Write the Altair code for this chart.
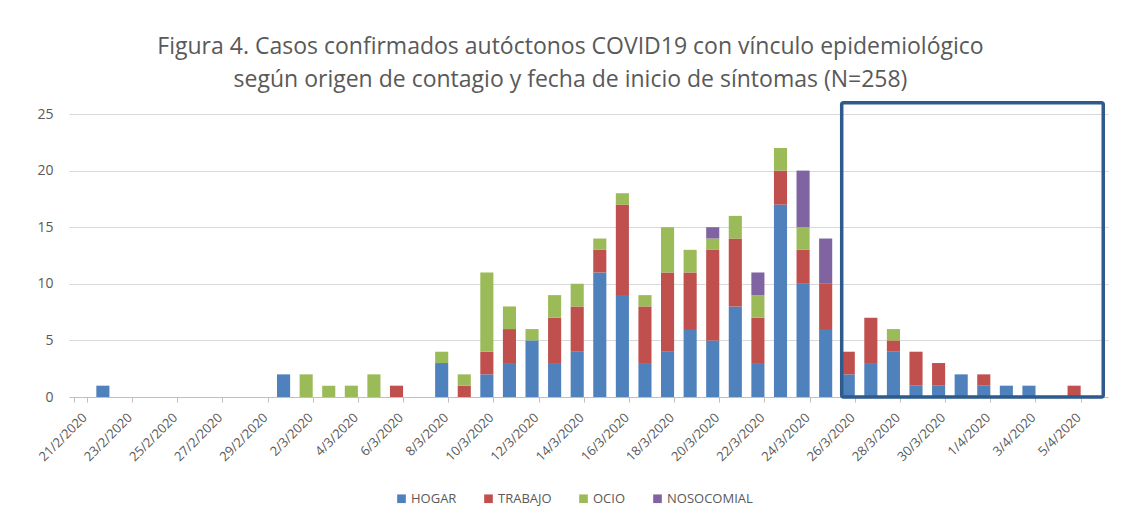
import altair as alt
import pandas as pd

# ---- data ----
dates = (
    [f"{d}/2/2020" for d in range(21, 30)]
    + [f"{d}/3/2020" for d in range(1, 32)]
    + [f"{d}/4/2020" for d in range(1, 7)]
)
series = ["HOGAR", "TRABAJO", "OCIO", "NOSOCOMIAL"]
colors = ["#4F81BD", "#C0504D", "#9BBB59", "#8064A2"]

hogar = [0, 1, 0, 0, 0, 0, 0, 0, 0,
         2, 0, 0, 0, 0, 0, 0, 3, 0, 2, 3, 5, 3, 4, 11, 9, 3, 4, 6, 5, 8, 3, 17, 10, 6, 2, 3, 4, 1, 1, 2,
         1, 1, 1, 0, 0, 0]
trabajo = [0, 0, 0, 0, 0, 0, 0, 0, 0,
           0, 0, 0, 0, 0, 1, 0, 0, 1, 2, 3, 0, 4, 4, 2, 8, 5, 7, 5, 8, 6, 4, 3, 3, 4, 2, 4, 1, 3, 2, 0,
           1, 0, 0, 0, 1, 0]
ocio = [0, 0, 0, 0, 0, 0, 0, 0, 0,
        0, 2, 1, 1, 2, 0, 0, 1, 1, 7, 2, 1, 2, 2, 1, 1, 1, 4, 2, 1, 2, 2, 2, 2, 0, 0, 0, 1, 0, 0, 0,
        0, 0, 0, 0, 0, 0]
nosocomial = [0, 0, 0, 0, 0, 0, 0, 0, 0,
              0, 0, 0, 0, 0, 0, 0, 0, 0, 0, 0, 0, 0, 0, 0, 0, 0, 0, 0, 1, 0, 2, 0, 5, 4, 0, 0, 0, 0, 0, 0,
              0, 0, 0, 0, 0, 0]

label_dates = dates[::2]
box_start = "26/3/2020"
box_end = "6/4/2020"
box_top = 26

title_lines = [
    "Figura 4. Casos confirmados autóctonos COVID19 con vínculo epidemiológico",
    "según origen de contagio y fecha de inicio de síntomas (N=258)",
]

# ---- table ----
rows = []
for i, d in enumerate(dates):
    for k, (name, vals) in enumerate(zip(series, [hogar, trabajo, ocio, nosocomial])):
        rows.append({"fecha": d, "origen": name, "casos": vals[i], "orden": k})
df = pd.DataFrame(rows)
box_df = pd.DataFrame([{"start": box_start, "end": box_end, "y0": 0, "y1": box_top}])

FONT = "Open Sans"
GREY = "#595959"

x_scale = alt.Scale(domain=dates, paddingInner=0.42, paddingOuter=0.21)
y_scale = alt.Scale(domain=[0, 25], nice=False, zero=True)

x_axis = alt.Axis(
    values=label_dates,
    labelAngle=315,
    labelAlign="right",
    labelBaseline="top",
    labelFont=FONT,
    labelFontSize=13,
    labelColor=GREY,
    labelPadding=9,
    tickBand="extent",
    tickColor="#BFBFBF",
    tickSize=5,
    domainColor="#BFBFBF",
    grid=False,
)
y_axis = alt.Axis(
    values=[0, 5, 10, 15, 20, 25],
    labelFont=FONT,
    labelFontSize=14,
    labelColor=GREY,
    labelPadding=16,
    ticks=False,
    domain=False,
    domainOpacity=0,
    gridColor="#D9D9D9",
    gridWidth=1,
)

bars = alt.Chart(df).mark_bar().encode(
    x=alt.X("fecha:N", sort=dates, scale=x_scale, title=None, axis=x_axis),
    y=alt.Y("casos:Q", stack="zero", scale=y_scale, title=None, axis=y_axis),
    color=alt.Color(
        "origen:N",
        scale=alt.Scale(domain=series, range=colors),
        legend=alt.Legend(
            title=None,
            orient="none",
            direction="horizontal",
            legendX=326,
            legendY=378,
            symbolType="square",
            symbolSize=75,
            symbolStrokeWidth=0,
            labelFont=FONT,
            labelFontSize=13,
            labelColor=GREY,
            columnPadding=25,
            labelOffset=3,
        ),
    ),
    order=alt.Order("orden:Q", sort="ascending"),
)

box = alt.Chart(box_df).mark_rect(
    fillOpacity=0, stroke="#2E5A8C", strokeWidth=3.5, clip=False,
    cornerRadius=2,
).encode(
    x=alt.X("start:N", sort=dates, scale=x_scale, bandPosition=0, title=None, axis=x_axis),
    x2=alt.X2("end", bandPosition=1),
    y=alt.Y("y0:Q", scale=y_scale, title=None, axis=y_axis),
    y2=alt.Y2("y1"),
)

chart = (
    alt.layer(bars, box)
    .properties(
        width=1039,
        height=283,
        background="white",
        view=alt.ViewBackground(stroke="transparent", strokeWidth=0, strokeOpacity=0),
        title=alt.Title(
            title_lines,
            font=FONT,
            fontSize=23,
            fontWeight="normal",
            color=GREY,
            anchor="middle",
            offset=9,
            dx=-18,
            lineHeight=33,
        ),
        autosize=alt.AutoSizeParams(type="none"),
        padding={"left": 61, "top": 106, "right": 12, "bottom": 115},
    )
    .configure_view(stroke="transparent", strokeWidth=0, strokeOpacity=0)
    .configure_axisY(domain=False, domainOpacity=0)
    .configure_axisX(gridOpacity=0)
)

chart.save("out.html", embed_options={"renderer": "svg", "actions": False})
